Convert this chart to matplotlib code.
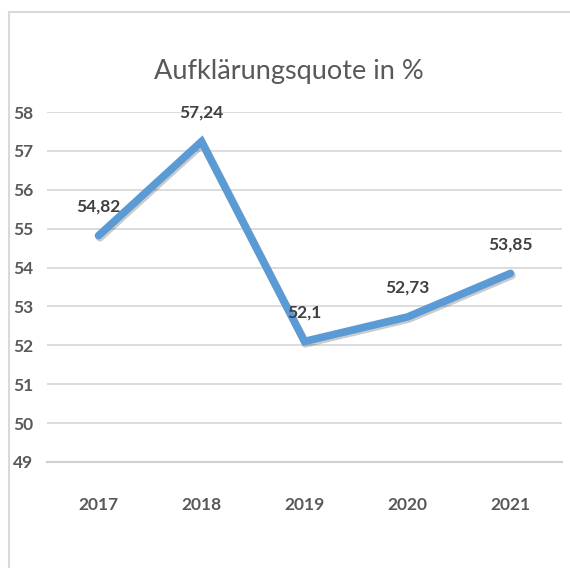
import matplotlib
matplotlib.use("Agg")
import matplotlib.pyplot as plt
import matplotlib.patheffects as pe
from matplotlib.lines import Line2D

years = ["2017", "2018", "2019", "2020", "2021"]
quote = [54.82, 57.24, 52.1, 52.73, 53.85]
labels = ["54,82", "57,24", "52,1", "52,73", "53,85"]
y_ticks = list(range(49, 59))

plt.rcParams["font.family"] = ["Lato", "DejaVu Sans"]

fig = plt.figure(figsize=(5.7, 5.68), dpi=100)
W, H = 570, 568
ax = fig.add_axes([47 / W, 1 - 462 / H, 515 / W, 350 / H])

x = list(range(len(years)))
ax.plot(x, quote, color="#5B9BD5", lw=5.5, solid_capstyle="round",
        solid_joinstyle="miter",
        path_effects=[pe.SimpleLineShadow(offset=(1, -1.5), alpha=0.25,
                                          shadow_color="#303030"),
                      pe.Normal()])

for xi, v, lab in zip(x, quote, labels):
    ax.annotate(lab, (xi, v), xytext=(0, 21), textcoords="offset points",
                ha="center", va="center", fontsize=12.5, fontweight="bold",
                color="#404040")

ax.set_xlim(-0.5, len(years) - 0.5)
ax.set_ylim(49, 58)
ax.set_yticks(y_ticks)
ax.set_xticks(x)
ax.set_xticklabels(years)
ax.tick_params(length=0, labelsize=12.5, labelcolor="#595959", pad=10)
for t in ax.get_xticklabels() + ax.get_yticklabels():
    t.set_fontweight("bold")
ax.tick_params(axis="x", pad=25)
ax.grid(axis="y", color="#D9D9D9", lw=1.3)
ax.set_axisbelow(True)
for s in ["top", "right", "left"]:
    ax.spines[s].set_visible(False)
ax.spines["bottom"].set_color("#D0D0D0")
ax.spines["bottom"].set_linewidth(1.5)
ax.set_facecolor("none")

fig.text(289 / W, 1 - 71 / H, "Aufklärungsquote in %", ha="center",
         va="center", fontsize=19.5, color="#595959")

# outer frame of the chart area
fig.add_artist(Line2D([9 / W, 1], [1 - 12 / H, 1 - 12 / H],
                      transform=fig.transFigure, color="#D9D9D9", lw=1.5))
fig.add_artist(Line2D([9 / W, 9 / W], [0, 1 - 12 / H],
                      transform=fig.transFigure, color="#D9D9D9", lw=1.5))

fig.savefig("out.png", dpi=100)
